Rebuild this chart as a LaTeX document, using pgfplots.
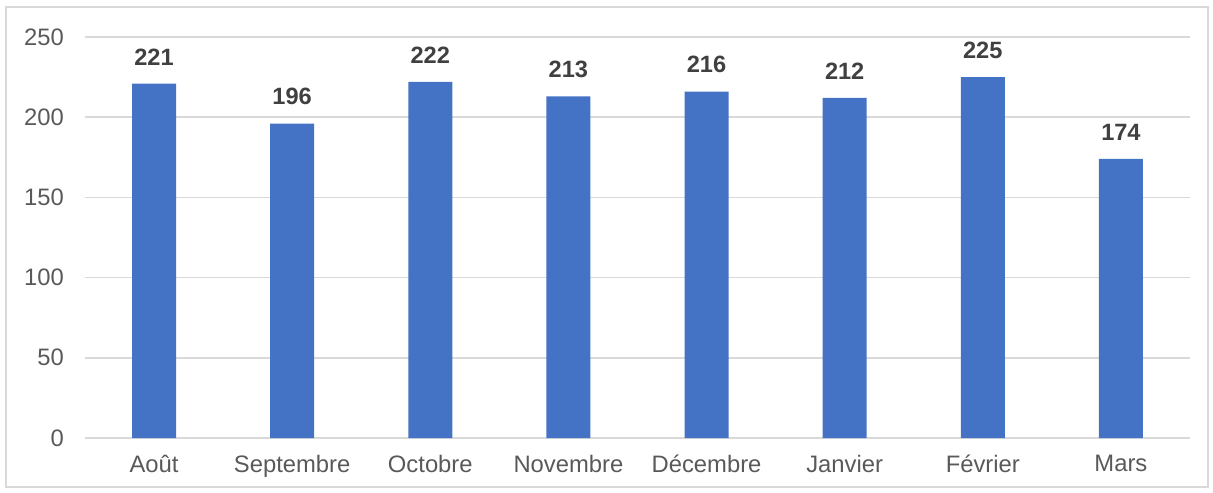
\documentclass[border=0pt]{standalone}
\usepackage{fontspec}
\setmainfont{Liberation Sans}
\usepackage{pgfplots}
\pgfplotsset{compat=1.18}
\definecolor{barblue}{HTML}{4472C4}
\definecolor{gridgray}{HTML}{D9D9D9}
\definecolor{ticktext}{HTML}{595959}
\definecolor{labeltext}{HTML}{404040}

\begin{document}
\begin{tikzpicture}
\useasboundingbox (-42.5pt,-27pt) rectangle (564pt,219pt);
\draw[gridgray, line width=0.8pt] (-39.5pt,-24.5pt) rectangle (561.5pt,215.5pt);
\begin{axis}[
  at={(0,0)}, anchor=south west,
  scale only axis,
  width=552.5pt, height=200.5pt,
  ybar, bar width=22pt,
  xmin=-0.5, xmax=7.5,
  ymin=0, ymax=250,
  ytick={0,50,...,250},
  xtick=data,
  xticklabels={Août, Septembre, Octobre, Novembre, Décembre, Janvier, Février, Mars},
  axis line style={draw=none},
  major tick length=0pt,
  ymajorgrids,
  grid style={gridgray, line width=0.75pt},
  tick label style={font=\fontsize{11.9}{14}\selectfont, text=ticktext},
  /pgf/number format/assume math mode=true,
  yticklabel style={xshift=-7pt},
  xticklabel style={yshift=-5pt},
  nodes near coords,
  every node near coord/.append style={font=\bfseries\fontsize{11.8}{14}\selectfont, text=labeltext, anchor=south, inner sep=0pt, yshift=9pt},
]
\addplot[fill=barblue, draw=none] coordinates {
  (0,221) (1,196) (2,222) (3,213) (4,216) (5,212) (6,225) (7,174)
};
\end{axis}
\end{tikzpicture}
\end{document}
